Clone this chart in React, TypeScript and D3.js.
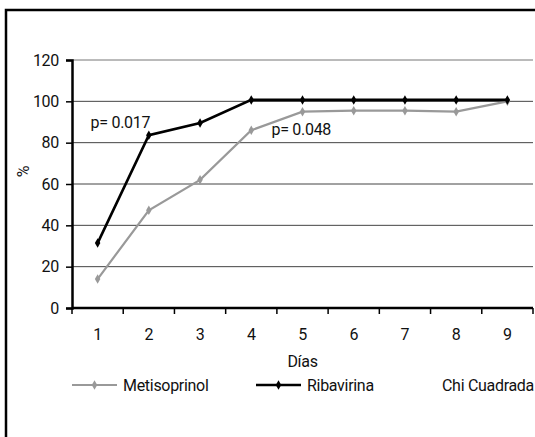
import React, { useEffect, useRef } from 'react';
import * as d3 from 'd3';

const days = ['1', '2', '3', '4', '5', '6', '7', '8', '9'];
const metisoprinol = [14, 47.3, 62, 86, 95, 95.5, 95.5, 95, 100];
const ribavirina = [31.4, 83.6, 89.5, 100.7, 100.7, 100.7, 100.7, 100.7, 100.7];
const yTicks = [0, 20, 40, 60, 80, 100, 120];
const seriesNames = ['Metisoprinol', 'Ribavirina'];
const annotations = [
  { text: 'p= 0.017', day: '1', value: 87, dx: -7 },
  { text: 'p= 0.048', day: '5', value: 83.6, dx: -31 },
];

const FONT = 'Roboto, "Open Sans", sans-serif';
const FS = '16px';

const App = () => {
  const svgRef = useRef<SVGSVGElement>(null);

  useEffect(() => {
    const svg = d3.select(svgRef.current);
    const width = 535;
    const height = 437;
    const margin = { top: 60, right: 2, bottom: 129, left: 72 };

    svg.attr('width', width).attr('height', height);

    // outer frame
    svg
      .append('rect')
      .attr('x', 6)
      .attr('y', 10)
      .attr('width', 600)
      .attr('height', 600)
      .attr('fill', 'none')
      .attr('stroke', '#000')
      .attr('stroke-width', 2.5);

    const x = d3
      .scaleBand()
      .domain(days)
      .range([margin.left, width - margin.right]);

    const y = d3
      .scaleLinear()
      .domain([0, 120])
      .range([height - margin.bottom, margin.top]);

    const addText = (sel: any) =>
      sel
        .style('font-family', FONT)
        .style('font-size', FS)
        .style('letter-spacing', '-0.3px')
        .attr('fill', '#111');

    // grid lines
    svg
      .append('g')
      .selectAll('line')
      .data(yTicks.filter(d => d > 0))
      .enter()
      .append('line')
      .attr('x1', margin.left)
      .attr('x2', width - margin.right)
      .attr('y1', d => y(d))
      .attr('y2', d => y(d))
      .attr('stroke', d => (d === 120 ? '#777' : '#444'))
      .attr('stroke-width', 1);

    // y axis
    const yAxis = svg
      .append('g')
      .attr('transform', `translate(${margin.left},0)`)
      .call(d3.axisLeft(y).tickValues(yTicks).tickSize(6).tickPadding(7));
    yAxis.select('.domain').attr('stroke-width', 2.5);
    yAxis.selectAll('.tick line').attr('stroke-width', 1.5);
    yAxis.selectAll('text').call(addText);

    // x axis
    const xAxis = svg
      .append('g')
      .attr('transform', `translate(0,${y(0)})`)
      .call(d3.axisBottom(x).tickSize(0).tickPadding(21));
    xAxis.select('.domain').attr('stroke-width', 2.5).attr('d', `M${margin.left},0H${width - margin.right}`);
    xAxis.selectAll('text').call(addText);

    // x ticks on band edges
    const edges = days.map(d => x(d) as number).concat([width - margin.right]);
    svg
      .append('g')
      .selectAll('line')
      .data(edges)
      .enter()
      .append('line')
      .attr('x1', d => d)
      .attr('x2', d => d)
      .attr('y1', y(0))
      .attr('y2', y(0) + 6)
      .attr('stroke', '#000')
      .attr('stroke-width', 1.5);

    // axis titles
    svg
      .append('text')
      .attr('x', (margin.left + width - margin.right) / 2)
      .attr('y', 367)
      .attr('text-anchor', 'middle')
      .call(addText)
      .text('Días');

    svg
      .append('text')
      .attr('transform', `translate(29,${y(66)}) rotate(-90)`)
      .attr('text-anchor', 'middle')
      .call(addText)
      .text('%');

    const cx = (d: string) => (x(d) as number) + x.bandwidth() / 2;

    const series = [
      { name: seriesNames[0], values: metisoprinol, color: '#999', width: 2.2 },
      { name: seriesNames[1], values: ribavirina, color: '#000', width: 2.6 },
    ];

    const line = d3
      .line<number>()
      .x((d, i) => cx(days[i]))
      .y(d => y(d));

    const diamond = d3.symbol().type(d3.symbolDiamond).size(26);

    series.forEach(s => {
      svg
        .append('path')
        .datum(s.values)
        .attr('d', line)
        .attr('fill', 'none')
        .attr('stroke', s.color)
        .attr('stroke-width', s.width);

      svg
        .append('g')
        .selectAll('path')
        .data(s.values)
        .enter()
        .append('path')
        .attr('d', diamond)
        .attr('transform', (d, i) => `translate(${cx(days[i])},${y(d)})`)
        .attr('fill', s.color);
    });

    // p-value annotations
    svg
      .append('g')
      .selectAll('text')
      .data(annotations)
      .enter()
      .append('text')
      .attr('x', d => cx(d.day) + d.dx)
      .attr('y', d => y(d.value))
      .call(addText)
      .text(d => d.text);

    // legend
    const legendY = 385;
    const legend = svg
      .selectAll('.legend')
      .data(series)
      .enter()
      .append('g')
      .attr('class', 'legend')
      .attr('transform', (d, i) => `translate(${72 + i * 184},${legendY})`);

    legend
      .append('line')
      .attr('x1', 0)
      .attr('x2', 45)
      .attr('stroke', d => d.color)
      .attr('stroke-width', d => d.width);

    legend
      .append('path')
      .attr('d', diamond)
      .attr('transform', 'translate(22.5,0)')
      .attr('fill', d => d.color);

    legend
      .append('text')
      .attr('x', 51)
      .attr('y', 6)
      .call(addText)
      .text(d => d.name);

    svg
      .append('text')
      .attr('x', 442)
      .attr('y', legendY + 6)
      .call(addText)
      .text('Chi Cuadrada');

    return () => {
      svg.selectAll('*').remove();
    };
  }, []);

  return <svg ref={svgRef} style={{ position: 'absolute', left: 0, top: 0, background: '#fff' }}></svg>;
};

export default App;
